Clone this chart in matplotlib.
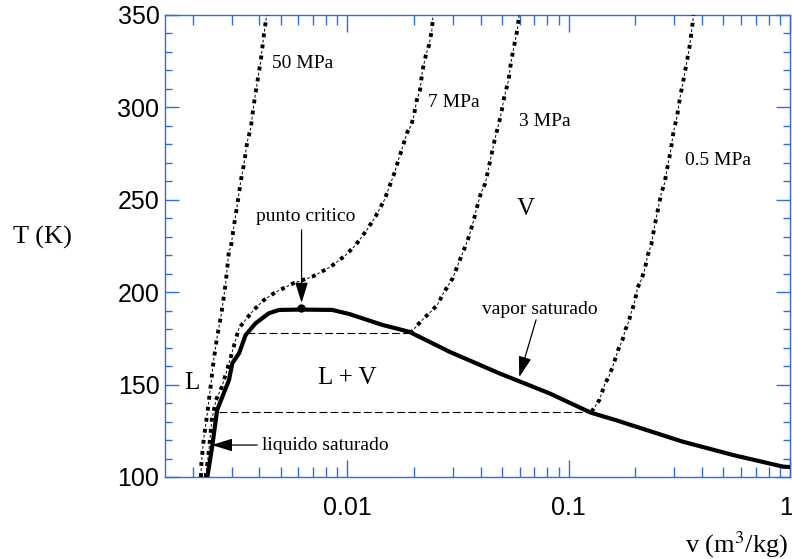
import matplotlib
matplotlib.use("Agg")
import matplotlib.pyplot as plt
from matplotlib.ticker import FixedLocator, LogLocator, NullFormatter, FuncFormatter
import matplotlib.transforms as mtransforms

# ---------------- data ----------------
# saturation dome of methane: v (m3/kg), T (K)
sat_v = [0.00233, 0.00245, 0.00258, 0.00292, 0.00302, 0.00324, 0.00347, 0.00385,
         0.00442, 0.00491, 0.00615, 0.00855, 0.0102, 0.0144, 0.019, 0.0243, 0.0289,
         0.0486, 0.0818, 0.126, 0.163, 0.328, 0.553, 0.93, 1.0]
sat_T = [100.0, 116.4, 136.3, 152.5, 161.5, 166.9, 176.8, 183.2,
         188.6, 190.4, 190.6, 190.4, 188.2, 182.3, 178.6, 172.3, 167.8,
         156.1, 145.3, 134.8, 130.8, 119.1, 111.9, 105.6, 105.4]

crit_v = [0.00615]
crit_T = [191.6]

# isobars
p50_v = [0.00218, 0.00219, 0.00225, 0.00233, 0.00241, 0.00249, 0.00258, 0.0027,
         0.00282, 0.00292, 0.00297, 0.00308, 0.00319, 0.0033, 0.00341, 0.00353,
         0.00366, 0.00378, 0.00389, 0.00406, 0.0042, 0.00432]
p50_T = [100.0, 107.4, 121.8, 134.5, 148.9, 163.3, 175.9, 188.6,
         204.8, 222.8, 223.7, 236.7, 248.1, 260.2, 269.2, 281.4,
         288.7, 301.7, 311.2, 325.1, 339.6, 350.0]

p7_v = [0.00229, 0.00237, 0.00244, 0.00255, 0.00271, 0.00286, 0.00301, 0.00324,
        0.00352, 0.00378, 0.0042, 0.00475, 0.00528, 0.00574, 0.00695, 0.00841,
        0.00984, 0.0109, 0.0123, 0.0134, 0.0147, 0.0163, 0.0171, 0.0187, 0.0194,
        0.0200, 0.0206, 0.0213, 0.0218, 0.0226, 0.0234, 0.0241, 0.0244]
p7_T = [100.0, 114.6, 130.8, 141.7, 148.7, 157.9, 167.1, 180.6,
        186.0, 190.4, 195.8, 200.1, 202.8, 205.0, 208.4, 213.8,
        220.1, 225.5, 234.0, 240.9, 249.9, 264.3, 272.4, 286.9, 290.0,
        295.9, 304.0, 309.4, 319.3, 327.9, 333.8, 341.9, 350.0]

p3_v = [0.0192, 0.0218, 0.0238, 0.0255, 0.0269, 0.0299, 0.032, 0.0343, 0.0356,
        0.0374, 0.0384, 0.0401, 0.042, 0.0446, 0.0461, 0.0494, 0.0512, 0.0535,
        0.0549, 0.0568, 0.0588, 0.0597]
p3_T = [177.8, 185.0, 189.4, 193.1, 198.5, 207.5, 216.5, 225.5, 230.9,
        239.9, 245.4, 253.5, 258.9, 273.3, 281.4, 295.9, 305.8, 314.8,
        324.7, 333.8, 342.8, 350.0]

p05_v = [0.1268, 0.1377, 0.1452, 0.153, 0.158, 0.1626, 0.1683, 0.1754, 0.1806,
         0.1862, 0.1915, 0.198, 0.205, 0.2127, 0.2203, 0.2277, 0.236, 0.2443,
         0.2529, 0.262, 0.271, 0.2805, 0.2884, 0.2976, 0.309, 0.319, 0.330,
         0.342, 0.3516, 0.364, 0.366]
p05_T = [135.3, 141.7, 149.8, 155.2, 159.7, 164.2, 169.6, 174.5, 179.9,
         183.5, 188.9, 194.0, 202.6, 206.6, 212.0, 220.1, 225.5, 235.5,
         244.5, 253.5, 258.9, 268.8, 276.0, 286.8, 295.3, 305.8, 314.8,
         324.7, 332.8, 346.4, 350.0]

# two-phase tie lines (3 MPa and 0.5 MPa)
tie3_v = [0.00353, 0.0192]
tie3_T = [177.8, 177.8]
tie05_v = [0.00263, 0.1268]
tie05_T = [135.3, 135.3]

x_ticks = [0.01, 0.1, 1]
x_ticklabels = ["0.01", "0.1", "1"]
y_ticks = [100, 150, 200, 250, 300, 350]

# ---------------- figure ----------------
W, H = 792, 559
fig = plt.figure(figsize=(W / 100, H / 100), dpi=100)
ax = fig.add_axes([165 / W, 1 - 477 / H, (790 - 165) / W, (477 - 15) / H])

blue = "#2F6FDB"
serif = "Liberation Serif"
sans = "Liberation Sans"


def isobar(v, T):
    ax.plot(v, T, color="k", lw=2.8, ls=(0, (1.0, 1.86)), dash_capstyle="butt", zorder=3)
    ax.plot(v, T, color="k", lw=0.7, ls=(5.14, (2.86, 8.57)), dash_capstyle="butt", zorder=3)


isobar(p50_v, p50_T)
isobar(p7_v, p7_T)
isobar(p3_v, p3_T)
isobar(p05_v, p05_T)

ax.plot(tie3_v, tie3_T, color="k", lw=0.8, ls=(0, (7, 3)), zorder=2)
ax.plot(tie05_v, tie05_T, color="k", lw=0.8, ls=(0, (7, 3)), zorder=2)

ax.plot(sat_v, sat_T, color="k", lw=3.0, solid_joinstyle="round", zorder=4)
ax.plot(crit_v, crit_T, "o", color="k", ms=5, zorder=5)

ax.set_xscale("log")
ax.set_xlim(0.0015, 1.0)
ax.set_ylim(100, 350)

ax.xaxis.set_major_locator(FixedLocator(x_ticks))
ax.xaxis.set_major_formatter(FuncFormatter(lambda val, pos: x_ticklabels[x_ticks.index(val)] if val in x_ticks else ""))
ax.xaxis.set_minor_locator(LogLocator(base=10, subs=[2, 3, 4, 5, 6, 7, 8, 9], numticks=20))
ax.xaxis.set_minor_formatter(NullFormatter())
ax.yaxis.set_major_locator(FixedLocator(y_ticks))
ax.yaxis.set_minor_locator(FixedLocator(list(range(100, 351, 10))))

for s in ax.spines.values():
    s.set_color(blue)
    s.set_linewidth(1.0)

ax.tick_params(which="both", direction="in", top=True, right=True, color=blue, width=1.0)
ax.tick_params(axis="x", which="major", length=12, pad=14)
ax.tick_params(axis="x", which="minor", length=7)
ax.tick_params(axis="y", which="major", length=10, pad=4)
ax.tick_params(axis="y", which="minor", length=5)
for lab in ax.get_xticklabels() + ax.get_yticklabels():
    lab.set_fontfamily(sans)
    lab.set_fontsize(18)
    lab.set_color("black")

# nudge the "1" label so it stays inside the canvas
fig.canvas.draw()
last = [t for t in ax.get_xticklabels() if t.get_text() == "1"]
for t in last:
    t.set_transform(t.get_transform() + mtransforms.ScaledTranslation(-3 / 72, 0, fig.dpi_scale_trans))

# axis labels
fig.text(42 / W, 1 - 237 / H, "T (K)", family=serif, fontsize=19, ha="center", va="center")
fig.text(737 / W, 1 - 545 / H, "v (m$^3$/kg)", family=serif, fontsize=19, ha="center", va="center",
         math_fontfamily="stix")

# region and isobar labels
ax.text(0.00456, 324, "50 MPa", family=serif, fontsize=14, ha="left", va="center")
ax.text(0.0232, 302.4, "7 MPa", family=serif, fontsize=14, ha="left", va="center")
ax.text(0.0598, 292.1, "3 MPa", family=serif, fontsize=14, ha="left", va="center")
ax.text(0.334, 271, "0.5 MPa", family=serif, fontsize=14, ha="left", va="center")
ax.text(0.0637, 245, "V", family=serif, fontsize=18, ha="center", va="center")
ax.text(0.00198, 150.9, "L", family=serif, fontsize=18, ha="center", va="center")
ax.text(0.0100, 153.6, "L + V", family=serif, fontsize=18, ha="center", va="center")

arrow = dict(arrowstyle="-|>,head_length=0.9,head_width=0.28", color="k", lw=0.9,
             shrinkA=0, shrinkB=0, mutation_scale=14)
ax.annotate("", xy=(0.00621, 194.2), xytext=(0.00621, 233.7), arrowprops=arrow)
ax.text(0.00645, 240.7, "punto critico", family=serif, fontsize=14, ha="center", va="center")

ax.annotate("", xy=(0.00244, 117.3), xytext=(0.00391, 117.3), arrowprops=arrow)
ax.text(0.00411, 117.3, "liquido saturado", family=serif, fontsize=14, ha="left", va="center")

ax.annotate("", xy=(0.0598, 154.1), xytext=(0.0712, 185.0), arrowprops=arrow)
ax.text(0.0742, 190.4, "vapor saturado", family=serif, fontsize=14, ha="center", va="center")

fig.savefig("out.png", dpi=100)
